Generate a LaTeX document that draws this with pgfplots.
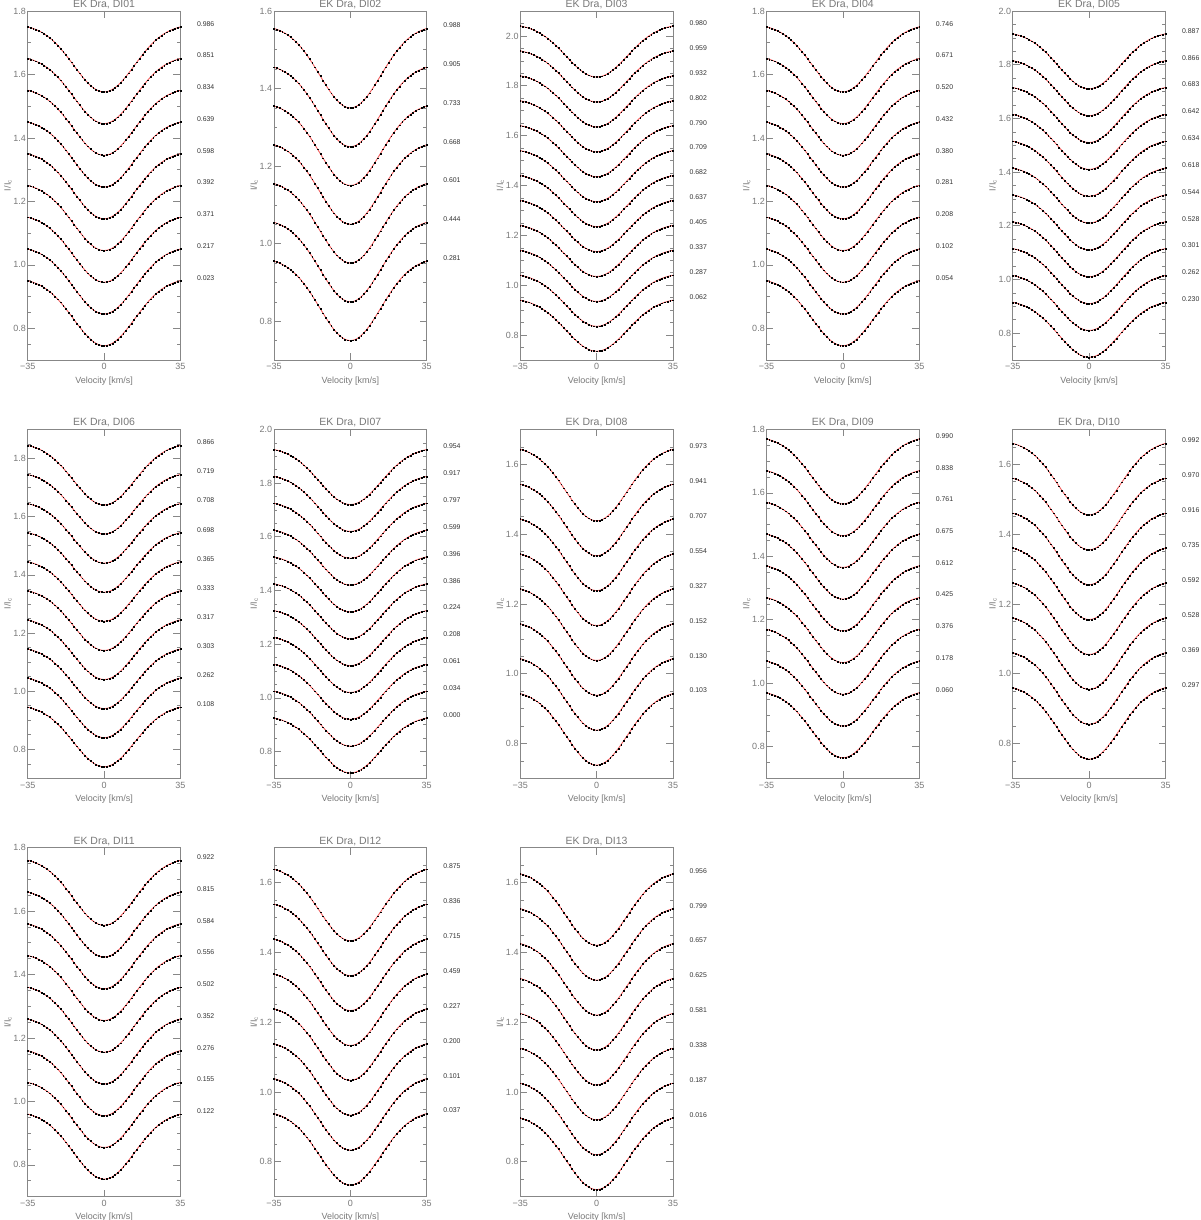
\documentclass[border=0pt]{standalone}
\usepackage{fontspec}
\setmainfont{Liberation Sans}
\usepackage{pgfplots}
\pgfplotsset{compat=1.18}
\usepackage{pgfplotstable}

\definecolor{axgray}{RGB}{135,135,135}
\definecolor{labgray}{RGB}{120,120,120}
\definecolor{fitred}{RGB}{240,95,95}

% mean line profile shape, relative to the value at +-35 km/s
\pgfplotstableread{
v d
-35 0
-33.75 -0.0023
-32.5 -0.0051
-31.25 -0.0083
-30 -0.0122
-28.75 -0.0166
-27.5 -0.0217
-26.25 -0.0276
-25 -0.0341
-23.75 -0.0414
-22.5 -0.0495
-21.25 -0.0583
-20 -0.0679
-18.75 -0.0780
-17.5 -0.0887
-16.25 -0.0999
-15 -0.1114
-13.75 -0.1229
-12.5 -0.1345
-11.25 -0.1458
-10 -0.1567
-8.75 -0.1669
-7.5 -0.1763
-6.25 -0.1847
-5 -0.1917
-3.75 -0.1974
-2.5 -0.2016
-1.25 -0.2041
0 -0.2050
1.25 -0.2041
2.5 -0.2016
3.75 -0.1974
5 -0.1917
6.25 -0.1847
7.5 -0.1763
8.75 -0.1669
10 -0.1567
11.25 -0.1458
12.5 -0.1345
13.75 -0.1229
15 -0.1114
16.25 -0.0999
17.5 -0.0887
18.75 -0.0780
20 -0.0679
21.25 -0.0583
22.5 -0.0495
23.75 -0.0414
25 -0.0341
26.25 -0.0276
27.5 -0.0217
28.75 -0.0166
30 -0.0122
31.25 -0.0083
32.5 -0.0051
33.75 -0.0023
35 0
}\base

\tikzset{phase/.style={anchor=west, inner sep=0pt, yshift=3pt, font=\fontsize{6.9}{7}\selectfont, text=black!80}}

\pgfplotsset{
  every axis title shift=0pt,
  panel/.style={
    anchor=north west, scale only axis, width=152.8pt, height=349pt,
    xmin=-35, xmax=35, ymin=0.7,
    xtick={-35,0,35}, xticklabels={−35,0,35},
    ytick={0.8,1.0,1.2,1.4,1.6,1.8,2.0},
    minor ytick={0.75,0.85,0.9,0.95,1.05,1.1,1.15,1.25,1.3,1.35,1.45,1.5,1.55,1.65,1.7,1.75,1.85,1.9,1.95,2.05},
    tick align=inside,
    major tick length=7pt, minor tick length=3.5pt,
    axis line style={draw=axgray, line width=0.6pt},
    every tick/.style={draw=axgray, line width=0.6pt},
    /pgf/number format/assume math mode=true,
    yticklabel style={inner sep=1.5pt, /pgf/number format/fixed, /pgf/number format/fixed zerofill, /pgf/number format/precision=1},
    tick label style={font=\fontsize{9}{10}\selectfont, text=labgray},
    xlabel={Velocity [km/s]}, ylabel={I/I\textsubscript{c}},
    label style={font=\fontsize{9}{10}\selectfont, text=labgray},
    ylabel style={at={(axis description cs:-0.13,0.5)}, anchor=center},
    title style={at={(0.5,1)}, anchor=south, font=\fontsize{10.5}{12}\selectfont, text=labgray, inner sep=2pt},
    clip=false,
  },
  model/.style={fitred, line width=0.9pt, no marks},
  obs/.style={only marks, mark=square*, mark size=0.42pt, mark options={draw=none, fill=black}},
}

\newcommand{\prof}[2]{%
  \addplot[model] table[x=v, y expr=\thisrow{d}+#1]{\base};
  \addplot[obs] table[x=v, y expr=\thisrow{d}+#1]{\base};
  \node[phase] at (axis cs:42.5,#1) {#2};
}

\begin{document}
\begin{tikzpicture}
\useasboundingbox (0,0) rectangle (1200pt,-1220pt);

% ---------- row 1 ----------
\begin{axis}[panel, at={(27.7pt,-11pt)}, ymax=1.8, title={EK Dra, DI01}]
\prof{1.75}{0.986}
\prof{1.65}{0.851}
\prof{1.55}{0.834}
\prof{1.45}{0.639}
\prof{1.35}{0.598}
\prof{1.25}{0.392}
\prof{1.15}{0.371}
\prof{1.05}{0.217}
\prof{0.95}{0.023}
\end{axis}

\begin{axis}[panel, at={(273.95pt,-11pt)}, ymax=1.6, title={EK Dra, DI02}]
\prof{1.555}{0.988}
\prof{1.455}{0.905}
\prof{1.355}{0.733}
\prof{1.255}{0.668}
\prof{1.155}{0.601}
\prof{1.055}{0.444}
\prof{0.955}{0.281}
\end{axis}

\begin{axis}[panel, at={(520.2pt,-11pt)}, ymax=2.1, title={EK Dra, DI03}]
\prof{2.04}{0.980}
\prof{1.94}{0.959}
\prof{1.84}{0.932}
\prof{1.74}{0.802}
\prof{1.64}{0.790}
\prof{1.54}{0.709}
\prof{1.44}{0.682}
\prof{1.34}{0.637}
\prof{1.24}{0.405}
\prof{1.14}{0.337}
\prof{1.04}{0.287}
\prof{0.94}{0.062}
\end{axis}

\begin{axis}[panel, at={(766.45pt,-11pt)}, ymax=1.8, title={EK Dra, DI04}]
\prof{1.75}{0.746}
\prof{1.65}{0.671}
\prof{1.55}{0.520}
\prof{1.45}{0.432}
\prof{1.35}{0.380}
\prof{1.25}{0.281}
\prof{1.15}{0.208}
\prof{1.05}{0.102}
\prof{0.95}{0.054}
\end{axis}

\begin{axis}[panel, at={(1012.7pt,-11pt)}, ymax=2.0, title={EK Dra, DI05}]
\prof{1.915}{0.887}
\prof{1.815}{0.866}
\prof{1.715}{0.683}
\prof{1.615}{0.642}
\prof{1.515}{0.634}
\prof{1.415}{0.618}
\prof{1.315}{0.544}
\prof{1.215}{0.528}
\prof{1.115}{0.301}
\prof{1.015}{0.262}
\prof{0.915}{0.230}
\end{axis}

% ---------- row 2 ----------
\begin{axis}[panel, at={(27.7pt,-429.4pt)}, ymax=1.9, title={EK Dra, DI06}]
\prof{1.845}{0.866}
\prof{1.745}{0.719}
\prof{1.645}{0.708}
\prof{1.545}{0.698}
\prof{1.445}{0.365}
\prof{1.345}{0.333}
\prof{1.245}{0.317}
\prof{1.145}{0.303}
\prof{1.045}{0.262}
\prof{0.945}{0.108}
\end{axis}

\begin{axis}[panel, at={(273.95pt,-429.4pt)}, ymax=2.0, title={EK Dra, DI07}]
\prof{1.925}{0.954}
\prof{1.825}{0.917}
\prof{1.725}{0.797}
\prof{1.625}{0.599}
\prof{1.525}{0.396}
\prof{1.425}{0.386}
\prof{1.325}{0.224}
\prof{1.225}{0.208}
\prof{1.125}{0.061}
\prof{1.025}{0.034}
\prof{0.925}{0.000}
\end{axis}

\begin{axis}[panel, at={(520.2pt,-429.4pt)}, ymax=1.7, title={EK Dra, DI08}]
\prof{1.643}{0.973}
\prof{1.543}{0.941}
\prof{1.443}{0.707}
\prof{1.343}{0.554}
\prof{1.243}{0.327}
\prof{1.143}{0.152}
\prof{1.043}{0.130}
\prof{0.943}{0.103}
\end{axis}

\begin{axis}[panel, at={(766.45pt,-429.4pt)}, ymax=1.8, title={EK Dra, DI09}]
\prof{1.77}{0.990}
\prof{1.67}{0.838}
\prof{1.57}{0.761}
\prof{1.47}{0.675}
\prof{1.37}{0.612}
\prof{1.27}{0.425}
\prof{1.17}{0.376}
\prof{1.07}{0.178}
\prof{0.97}{0.060}
\end{axis}

\begin{axis}[panel, at={(1012.7pt,-429.4pt)}, ymax=1.7, title={EK Dra, DI10}]
\prof{1.66}{0.992}
\prof{1.56}{0.970}
\prof{1.46}{0.916}
\prof{1.36}{0.735}
\prof{1.26}{0.592}
\prof{1.16}{0.528}
\prof{1.06}{0.369}
\prof{0.96}{0.297}
\end{axis}

% ---------- row 3 ----------
\begin{axis}[panel, at={(27.7pt,-847.6pt)}, ymax=1.8, title={EK Dra, DI11}]
\prof{1.76}{0.922}
\prof{1.66}{0.815}
\prof{1.56}{0.584}
\prof{1.46}{0.556}
\prof{1.36}{0.502}
\prof{1.26}{0.352}
\prof{1.16}{0.276}
\prof{1.06}{0.155}
\prof{0.96}{0.122}
\end{axis}

\begin{axis}[panel, at={(273.95pt,-847.6pt)}, ymax=1.7, title={EK Dra, DI12}]
\prof{1.638}{0.875}
\prof{1.538}{0.836}
\prof{1.438}{0.715}
\prof{1.338}{0.459}
\prof{1.238}{0.227}
\prof{1.138}{0.200}
\prof{1.038}{0.101}
\prof{0.938}{0.037}
\end{axis}

\begin{axis}[panel, at={(520.2pt,-847.6pt)}, ymax=1.7, title={EK Dra, DI13}]
\prof{1.625}{0.956}
\prof{1.525}{0.799}
\prof{1.425}{0.657}
\prof{1.325}{0.625}
\prof{1.225}{0.581}
\prof{1.125}{0.338}
\prof{1.025}{0.187}
\prof{0.925}{0.016}
\end{axis}

\end{tikzpicture}
\end{document}
